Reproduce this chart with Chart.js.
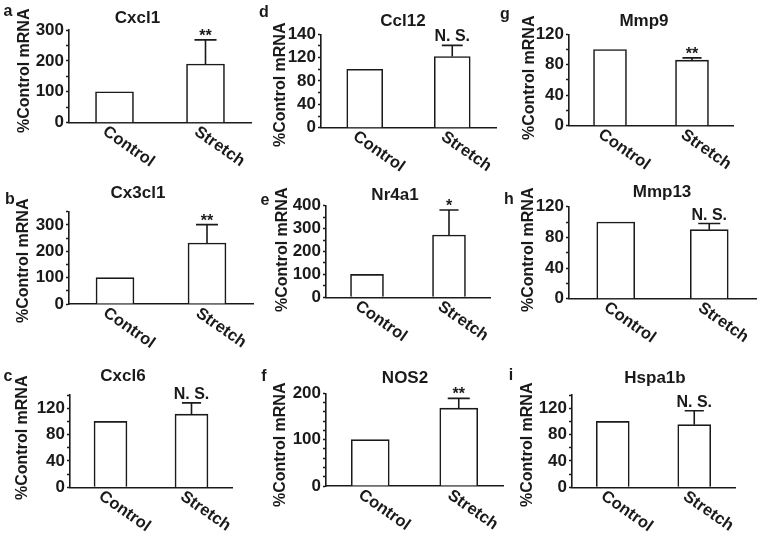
<!DOCTYPE html>
<html>
<head>
<meta charset="utf-8">
<script src="https://cdn.jsdelivr.net/npm/chart.js@4.4.1/dist/chart.umd.min.js"></script>
<style>
  html, body { margin: 0; padding: 0; background: #fff; }
  #wrap { position: relative; width: 760px; height: 537px; overflow: hidden; }
  #wrap canvas { position: absolute; left: 0; top: 0; }
</style>
</head>
<body>
<div id="wrap"></div>
<script>
// data, one entry per panel (a..i)
const panelLetters = ['a', 'b', 'c', 'd', 'e', 'f', 'g', 'h', 'i'];
const genes = ['Cxcl1', 'Cx3cl1', 'Cxcl6', 'Ccl12', 'Nr4a1', 'NOS2', 'Mmp9', 'Mmp13', 'Hspa1b'];
const categories = ['Control', 'Stretch'];
const controlValues = [100, 100, 100, 100, 100, 100, 100, 100, 100];
const stretchValues = [190, 231, 111, 122, 272, 168, 86, 90, 95];
const stretchErrors = [78, 70, 17, 19, 109, 21, 3, 8, 21];
const significance = ['**', '**', 'N. S.', 'N. S.', '*', '**', '**', 'N. S.', 'N. S.'];
const yMax = [300, 350, 140, 160, 400, 200, 120, 120, 140];
const yStep = [50, 50, 20, 20, 50, 20, 20, 20, 20];
const yTickValues = [
  [0, 100, 200, 300], [0, 100, 200, 300], [0, 40, 80, 120],
  [0, 40, 80, 120, 160], [0, 100, 200, 300, 400], [0, 100, 200],
  [0, 40, 80, 120], [0, 40, 80, 120], [0, 40, 80, 120]
];
const yTickLabels = [
  ['0', '100', '200', '300'], ['0', '100', '200', '300'], ['0', '40', '80', '120'],
  ['0', '40', '80', '120', '140'], ['0', '100', '200', '300', '400'], ['0', '100', '200'],
  ['0', '40', '80', '120'], ['0', '40', '80', '120'], ['0', '40', '80', '120']
];
const yAxisTitle = '%Control mRNA';

// page placement of each panel (plot box, bar width, text anchors)
const layout = [
  { L: 69,  T: 30,    B: 122.7, R: 251, bar: 38, letter: [8, 12],    title: [137.5, 18],  yl: [25, 133] },
  { L: 69,  T: 211.7, B: 304,   R: 253, bar: 38, letter: [10, 200],  title: [138, 193],   yl: [24, 323] },
  { L: 70,  T: 395,   B: 487.3, R: 232, bar: 33, letter: [8, 377],   title: [123, 376],   yl: [23, 500] },
  { L: 321, T: 34.3,  B: 127.7, R: 496, bar: 36, letter: [264, 13],  title: [403, 21.7],  yl: [281, 147] },
  { L: 326, T: 205.7, B: 297.3, R: 490, bar: 33, letter: [265, 201], title: [395, 195],   yl: [283, 312] },
  { L: 326, T: 393.3, B: 486,   R: 503, bar: 38, letter: [264, 377], title: [405, 378],   yl: [281, 507] },
  { L: 569, T: 34.3,  B: 125.7, R: 733, bar: 33, letter: [505, 15],  title: [644, 21.7],  yl: [530, 140] },
  { L: 569, T: 206.7, B: 298.7, R: 756, bar: 38, letter: [509, 200], title: [662, 192],   yl: [529, 312] },
  { L: 572, T: 395,   B: 487.3, R: 735, bar: 33, letter: [511, 376], title: [655, 378],   yl: [528, 507] }
];

const W = 760, H = 537;
const AXIS_W = 45;
const ink = '#1a1a1a';
const family = '"Liberation Sans", Arial, Helvetica, sans-serif';

Chart.defaults.font.family = family;
Chart.defaults.font.weight = 'bold';
Chart.defaults.font.size = 16;
Chart.defaults.color = ink;

const panelDecor = {
  id: 'panelDecor',
  afterDraw(chart, args, opts) {
    const k = opts.index;
    const lay = layout[k];
    const ctx = chart.ctx;
    const xs = chart.scales.x;
    const ys = chart.scales.y;
    const bar = chart.getDatasetMeta(0).data[1];

    ctx.save();
    ctx.strokeStyle = ink;
    ctx.fillStyle = ink;
    ctx.lineWidth = 1.6;

    // error bar (upper only) on the Stretch bar
    const top = ys.getPixelForValue(stretchValues[k] + stretchErrors[k]);
    const half = lay.bar * 0.29;
    ctx.beginPath();
    ctx.moveTo(bar.x, bar.y);
    ctx.lineTo(bar.x, top);
    ctx.moveTo(bar.x - half, top);
    ctx.lineTo(bar.x + half, top);
    ctx.stroke();

    ctx.font = 'bold 16px ' + family;
    ctx.textAlign = 'center';
    ctx.textBaseline = 'alphabetic';
    const sig = significance[k];
    ctx.fillText(sig, bar.x, sig.includes('*') ? top + 1 : top - 4);

    // title and panel letter
    ctx.textBaseline = 'middle';
    ctx.fillText(panelLetters[k], lay.letter[0], lay.letter[1]);
    ctx.font = 'bold 17px ' + family;
    ctx.fillText(genes[k], lay.title[0], lay.title[1]);

    // slanted category labels
    ctx.font = 'bold 16.5px ' + family;
    categories.forEach((c, i) => {
      const x = xs.getPixelForValue(i);
      ctx.save();
      ctx.translate(x + 14, chart.chartArea.bottom + 24);
      ctx.rotate(35 * Math.PI / 180);
      ctx.fillText(c, 0, 0);
      ctx.restore();
    });

    // y axis title
    ctx.font = 'bold 16px ' + family;
    ctx.save();
    ctx.translate(lay.yl[0], lay.yl[1]);
    ctx.rotate(-Math.PI / 2);
    ctx.textAlign = 'left';
    ctx.fillText(yAxisTitle, 0, 0);
    ctx.restore();

    ctx.restore();
  }
};

const wrap = document.getElementById('wrap');

genes.forEach((gene, k) => {
  const lay = layout[k];
  const canvas = document.createElement('canvas');
  canvas.width = W;
  canvas.height = H;
  wrap.appendChild(canvas);

  new Chart(canvas, {
    type: 'bar',
    data: {
      labels: categories,
      datasets: [{
        data: [controlValues[k], stretchValues[k]],
        backgroundColor: '#ffffff',
        borderColor: ink,
        borderWidth: 1.6,
        barThickness: lay.bar
      }]
    },
    options: {
      responsive: false,
      animation: false,
      events: [],
      layout: {
        padding: { left: lay.L - AXIS_W, top: lay.T, right: W - lay.R, bottom: H - lay.B }
      },
      plugins: {
        legend: { display: false },
        tooltip: { enabled: false },
        panelDecor: { index: k }
      },
      scales: {
        x: {
          grid: { display: false, drawTicks: false },
          ticks: { display: false },
          border: { color: ink, width: 1.6 },
          afterFit: (s) => { s.height = 0; }
        },
        y: {
          min: 0,
          max: yMax[k],
          grid: { drawOnChartArea: false, tickLength: 3, tickColor: ink, tickWidth: 1.5 },
          border: { color: ink, width: 1.6 },
          ticks: {
            stepSize: yStep[k],
            autoSkip: false,
            padding: 2,
            color: ink,
            font: { size: 17, weight: 'bold' },
            callback: (v) => {
              const idx = yTickValues[k].indexOf(v);
              return idx >= 0 ? yTickLabels[k][idx] : '';
            }
          },
          afterFit: (s) => { s.width = AXIS_W; }
        }
      }
    },
    plugins: [panelDecor]
  });
});
</script>
</body>
</html>
